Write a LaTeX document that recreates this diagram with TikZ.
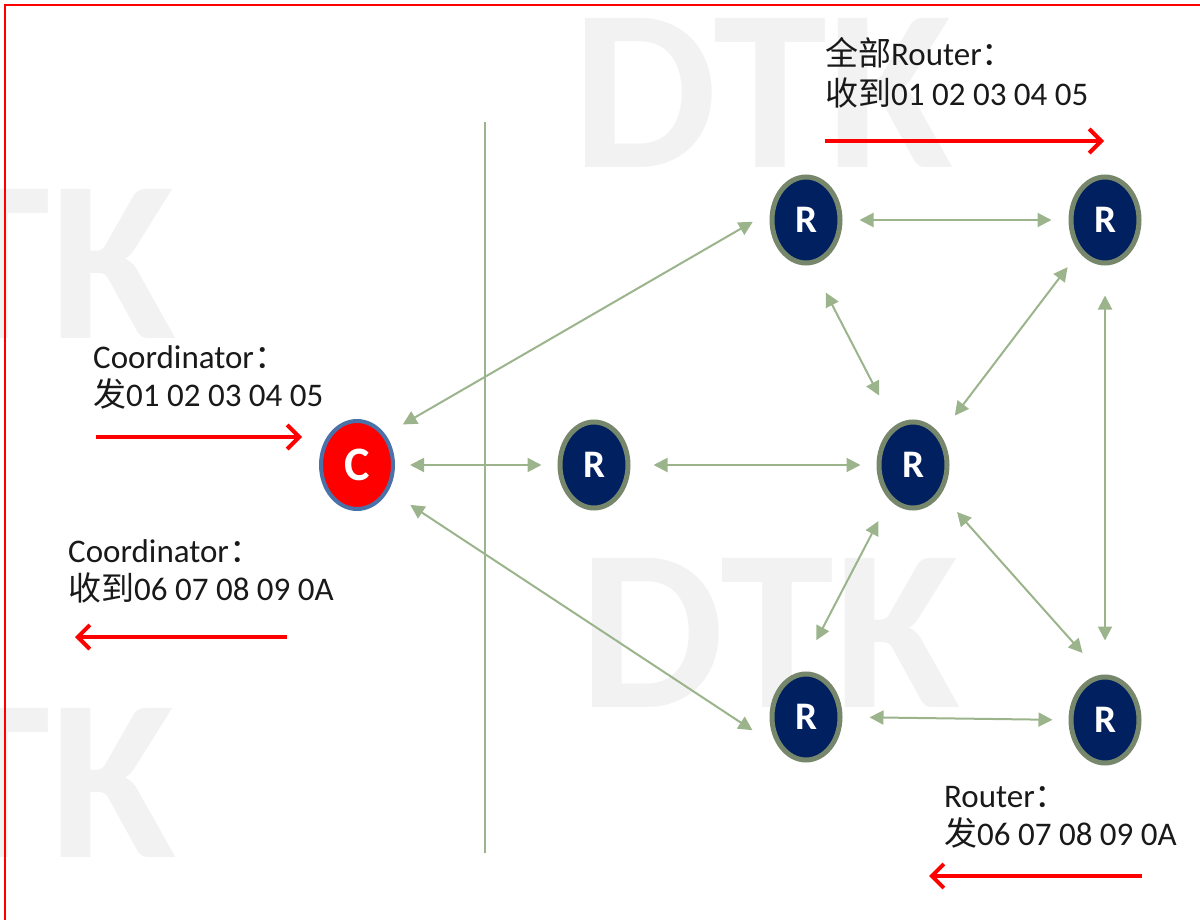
\documentclass[tikz,border=0pt]{standalone}
\usepackage{fontspec}
\setmainfont{Carlito}
\newfontfamily\cjk{Noto Sans CJK SC}
\usetikzlibrary{arrows.meta,shapes.geometric}

\definecolor{linkgreen}{RGB}{155,180,140}
\definecolor{navyfill}{RGB}{0,32,96}
\definecolor{rimgreen}{RGB}{118,135,107}
\definecolor{rimblue}{RGB}{74,114,168}
\definecolor{markgray}{RGB}{242,242,242}

\begin{document}
\begin{tikzpicture}[x=1pt,y=-1pt,
  router/.style={ellipse, draw=rimgreen, line width=5pt, fill=navyfill,
    minimum width=68pt, minimum height=86pt, inner sep=0pt, text=white,
    font=\bfseries\fontsize{39}{39}\selectfont},
  coordnode/.style={ellipse, draw=rimblue, line width=4pt, fill=red,
    minimum width=72pt, minimum height=88pt, inner sep=0pt, text=white,
    font=\bfseries\fontsize{48}{48}\selectfont},
  link/.style={linkgreen, line width=2pt,
    {Triangle[length=14pt,width=14pt]}-{Triangle[length=14pt,width=14pt]}},
  flow/.style={red, line width=4pt, -{Straight Barb[length=12pt,width=24pt]}},
  msg/.style={anchor=base west, inner sep=0pt,
    font=\fontsize{33}{40}\selectfont, text=black!90},
  wm/.style={anchor=base west, inner sep=0pt, text=markgray,
    font=\bfseries\fontsize{230}{230}\selectfont}
]
\useasboundingbox (0,0) rectangle (1200,920);
\clip (0,0) rectangle (1200,920);

% background watermark
\node[wm] (wm1) at (572,168) {DTK};
\node[wm] (wm2) at (579,707) {DTK};
\node[wm] (wm3) at (-205,338) {DTK};
\node[wm] (wm4) at (-205,857) {DTK};

% frame
\draw[red, line width=2pt] (1200,5) -- (5,5) -- (5,920);

% divider
\draw[linkgreen, line width=2pt] (485,122) -- (485,853);

% nodes
\node[coordnode] (C) at (357,465) {C};
\node[router] (R1) at (594,465) {R};
\node[router] (RC) at (913,465) {R};
\node[router] (TL) at (806,220) {R};
\node[router] (TR) at (1105,220) {R};
\node[router] (BL) at (806,717) {R};
\node[router] (BR) at (1105,720) {R};

% links
\draw[link, shorten <=20pt, shorten >=20pt] (C.47) -- (TL.167);
\draw[link, shorten <=15pt, shorten >=16pt] (C.east) -- (R1.west);
\draw[link, shorten <=26pt, shorten >=32pt] (C.-39) -- (BL.-131);
\draw[link, shorten <=23pt, shorten >=16pt] (R1.east) -- (RC.west);
\draw[link, shorten <=17pt, shorten >=17pt] (TL.east) -- (TR.west);
\draw[link, shorten <=31pt, shorten >=34pt] (TL.-83) -- (RC.115);
\draw[link, shorten <=19pt, shorten >=24pt] (TR.-129) -- (RC.48);
\draw[link, shorten <=24pt, shorten >=36pt] (RC.-124) -- (BL.98);
\draw[link, shorten <=24pt, shorten >=29pt] (RC.-46) -- (BR.94);
\draw[link, shorten <=30pt, shorten >=34pt] (TR.south) -- (BR.north);
\draw[link, shorten <=27pt, shorten >=16pt] (BL.east) -- (BR.west);

% messages
\node[msg] (lr1) at (825,66) {{\cjk 全部}Router{\cjk ：}};
\node[msg] (lr2) at (825,106) {{\cjk 收到}01 02 03 04 05};
\node[msg] (lc1) at (93,368) {Coordinator{\cjk ：}};
\node[msg] (lc2) at (93,406) {{\cjk 发}01 02 03 04 05};
\node[msg] (lc3) at (68,562) {Coordinator{\cjk ：}};
\node[msg] (lc4) at (68,600) {{\cjk 收到}06 07 08 09 0A};
\node[msg] (lr3) at (944,807) {Router{\cjk ：}};
\node[msg] (lr4) at (944,845) {{\cjk 发}06 07 08 09 0A};

% data flow arrows
\coordinate (f1s) at (825,141);  \coordinate (f1e) at (1104,141);
\coordinate (f2s) at (96,437);   \coordinate (f2e) at (302,437);
\coordinate (f3s) at (287,637);  \coordinate (f3e) at (75,637);
\coordinate (f4s) at (1142,876); \coordinate (f4e) at (929,876);
\draw[flow] (f1s) -- (f1e);
\draw[flow] (f2s) -- (f2e);
\draw[flow] (f3s) -- (f3e);
\draw[flow] (f4s) -- (f4e);
\end{tikzpicture}
\end{document}
